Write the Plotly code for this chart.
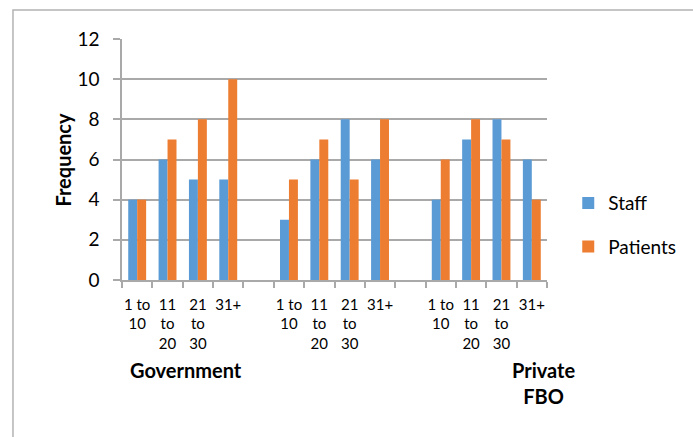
import plotly.graph_objects as go

# Frequency of staff and patients by years-of-service band, per facility type
groups = ["Government", "", "Private<br>FBO"]
bands = ["1 to<br>10", "11<br>to<br>20", "21<br>to<br>30", "31+"]
staff = [4, 6, 5, 5,   3, 6, 8, 6,   4, 7, 8, 6]
patients = [4, 7, 8, 10,   5, 7, 5, 8,   6, 8, 7, 4]
y_ticks = [0, 2, 4, 6, 8, 10, 12]

BLUE = "#5B9BD5"
ORANGE = "#ED7D31"
GRID = "#A9A9A9"
FONT = "Lato"

# one blank slot separates the facility groups on the category axis
slots_per_group = len(bands) + 1
x_pos = [g * slots_per_group + c for g in range(len(groups)) for c in range(len(bands))]
x_text = bands * len(groups)
n_slots = len(groups) * slots_per_group - 1

fig = go.Figure()
fig.add_trace(go.Bar(x=x_pos, y=staff, name="Staff", marker_color=BLUE,
                     marker_line_width=0, legendgroup="a"))
fig.add_trace(go.Bar(x=x_pos, y=patients, name="Patients", marker_color=ORANGE,
                     marker_line_width=0, legendgroup="b"))

fig.update_layout(
    width=693, height=437,
    margin=dict(l=122, r=146, t=39, b=157),
    plot_bgcolor="white", paper_bgcolor="white",
    barmode="group", bargap=0.41, bargroupgap=0,
    font=dict(family=FONT, color="#000000"),
    showlegend=True,
    legend=dict(x=1.05, y=0.228, xanchor="left", yanchor="middle",
                font=dict(size=19, family=FONT), tracegroupgap=16,
                traceorder="grouped", itemwidth=30, bgcolor="rgba(0,0,0,0)"),
)

fig.update_xaxes(
    range=[-0.5, n_slots - 0.5],
    tickmode="array", tickvals=x_pos, ticktext=x_text, ticks="",
    tickfont=dict(size=15, family=FONT), tickangle=0, ticklabelstandoff=10,
    showgrid=False, zeroline=False,
    showline=True, linecolor=GRID, linewidth=1.5,
    minor=dict(tickmode="array", tickvals=[i - 0.5 for i in range(n_slots + 1)],
               ticks="outside", ticklen=6, tickcolor=GRID, tickwidth=1.5, showgrid=False),
)
fig.update_yaxes(
    range=[0, 12], tickmode="array", tickvals=y_ticks,
    ticks="outside", ticklen=7, tickcolor=GRID, tickwidth=1.5,
    tickfont=dict(size=19, family=FONT), ticklabelstandoff=10,
    showgrid=True, gridcolor=GRID, gridwidth=1.5, zeroline=False,
    showline=True, linecolor=GRID, linewidth=1.5,
)

# axis title
fig.add_annotation(text="<b>Frequency</b>", xref="paper", yref="paper",
                   x=-0.141, y=0.5, textangle=-90, showarrow=False,
                   font=dict(size=20, family=FONT), xanchor="center", yanchor="middle")

# facility group labels under the band labels
group_x = [1.6, None, 13.4]
for name, gx in zip(groups, group_x):
    if gx is None or not name:
        continue
    fig.add_annotation(text=f"<b>{name}</b>", xref="x", yref="paper",
                       x=gx, y=-0.315, yanchor="top", showarrow=False,
                       font=dict(size=20, family=FONT), align="center")

# chart frame
fig.add_shape(type="rect", xref="paper", yref="paper",
              x0=-0.2565, y0=-0.7, x1=1.4, y1=1.1203,
              line=dict(color="#B3B3B3", width=1.5), layer="below")

fig.write_html("out.html")
